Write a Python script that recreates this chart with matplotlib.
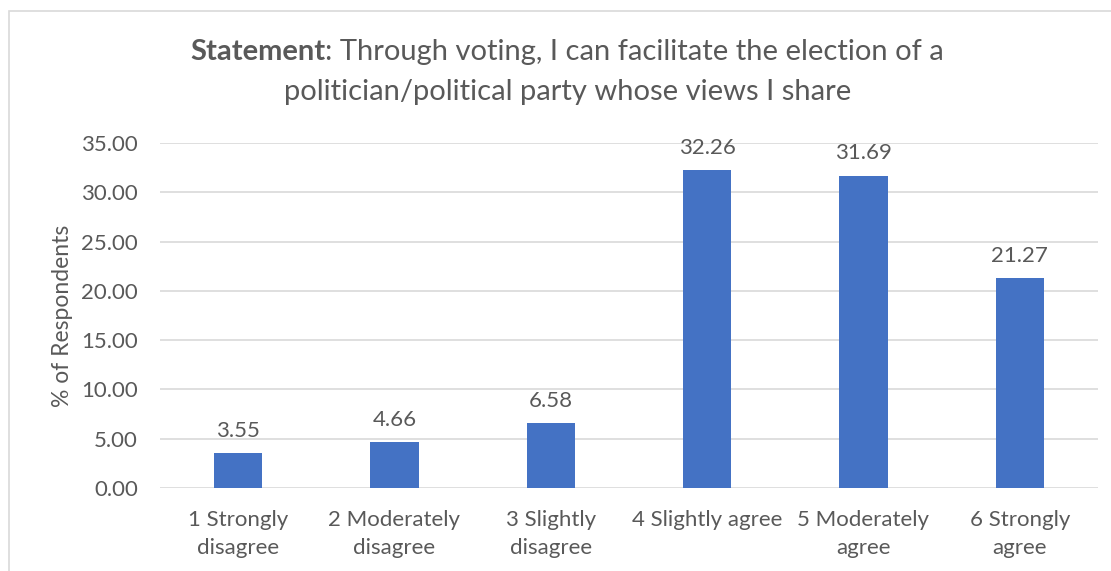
import matplotlib
matplotlib.use("Agg")
import matplotlib.pyplot as plt
from matplotlib.patches import Rectangle

categories = ["1 Strongly\ndisagree", "2 Moderately\ndisagree", "3 Slightly\ndisagree",
              "4 Slightly agree", "5 Moderately\nagree", "6 Strongly\nagree"]
values = [3.55, 4.66, 6.58, 32.26, 31.69, 21.27]
yticks = [0, 5, 10, 15, 20, 25, 30, 35]

plt.rcParams['font.family'] = ['Lato', 'DejaVu Sans']
gray = '#595959'
W, H = 1111, 571

fig = plt.figure(figsize=(W/100, H/100), dpi=100)
ax = fig.add_axes([160/W, 1-488/H, (1098-160)/W, (488-143)/H])

x = list(range(len(categories)))
ax.bar(x, values, width=0.31, color='#4472C4', zorder=3)
ax.set_xlim(-0.5, len(categories)-0.5)
ax.set_ylim(0, 35)
ax.set_yticks(yticks)
ax.set_yticklabels([f"{v:.2f}" for v in yticks])
ax.set_xticks(x)
ax.set_xticklabels(categories, linespacing=1.5)
ax.tick_params(axis='both', length=0, colors=gray, labelsize=16)
ax.tick_params(axis='x', pad=16)
ax.tick_params(axis='y', pad=16)
ax.grid(axis='y', color='#d9d9d9', linewidth=1.2, zorder=0)
for s in ax.spines.values():
    s.set_visible(False)

for xi, v in zip(x, values):
    ax.annotate(f"{v:.2f}", (xi, v), xytext=(0, 9), textcoords='offset points',
                ha='center', va='bottom', color=gray, fontsize=16)

ax.set_ylabel("% of Respondents", color=gray, fontsize=16.5, labelpad=6)

# title with bold first word, centred
tsize = 21
t1 = fig.text(0, 1-52/H, "Statement", fontweight='bold', color=gray,
              fontsize=tsize, va='center', ha='left')
t2 = fig.text(0, 1-52/H, ": Through voting, I can facilitate the election of a",
              color=gray, fontsize=tsize, va='center', ha='left')
fig.canvas.draw()
r = fig.canvas.get_renderer()
w1 = t1.get_window_extent(r).width
w2 = t2.get_window_extent(r).width
x0 = 567 - (w1 + w2)/2
t1.set_x(x0/W)
t2.set_x((x0 + w1)/W)
fig.text(568/W, 1-92/H, "politician/political party whose views I share",
         color=gray, fontsize=tsize, va='center', ha='center')

# chart frame
fig.patches.append(Rectangle((9/W, -0.05), 1.2, 1-11/H+0.05, transform=fig.transFigure,
                             fill=False, edgecolor='#d9d9d9', linewidth=1.2))

fig.savefig("out.png", dpi=100)
